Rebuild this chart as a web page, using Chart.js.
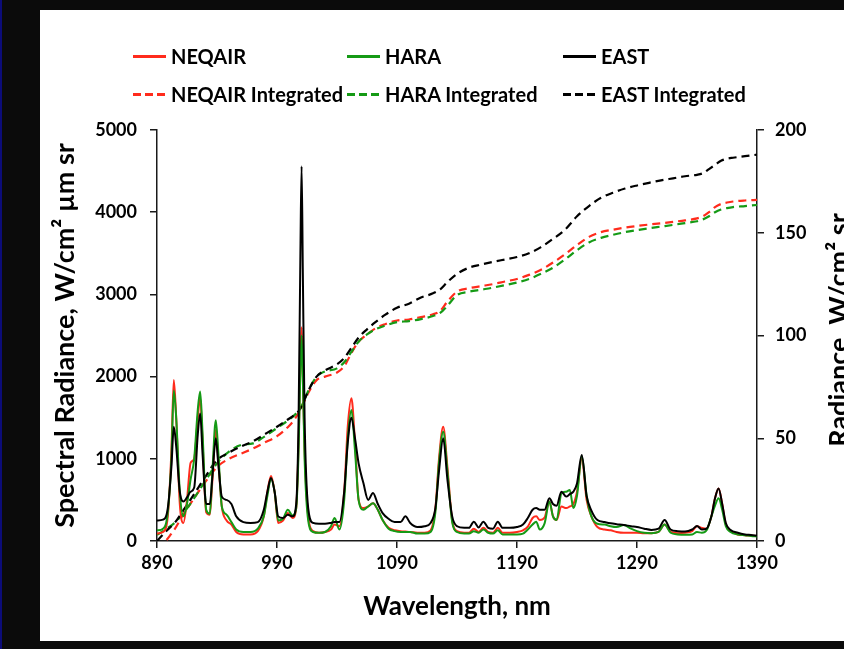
<!DOCTYPE html>
<html>
<head>
<meta charset="utf-8">
<title>Spectral radiance</title>
<script src="https://cdn.jsdelivr.net/npm/chart.js@4.4.0/dist/chart.umd.min.js"></script>
<style>
    html, body { margin: 0; padding: 0; width: 844px; height: 649px; overflow: hidden; background: #0b0b0b; }
    #edge { position: absolute; left: 0; top: 0; width: 2px; height: 649px; background: #0c0c78; }
    #panel { position: absolute; left: 40px; top: 10px; width: 830px; height: 631px; background: #fff; overflow: hidden; }
    #myChart { position: absolute; left: 0; top: 0; }
    .item { position: absolute; height: 26px; display: flex; align-items: center; white-space: nowrap;
            font-family: Lato, sans-serif; font-weight: bold; font-size: 20px; color: #000; }
    .swatch { width: 33px; height: 3px; margin-right: 5px; }
</style>
</head>
<body>
<div id="edge"></div>
<div id="panel">
    <canvas id="myChart" width="830" height="631"></canvas>
    <div id="legend"></div>
</div>
<script>
// spectra, W/cm2 um sr
var wavelength = [
    890, 895, 899, 902, 904, 906, 909, 912, 915, 918,
    921, 924, 926, 928, 931, 934, 936, 939, 941, 944,
    948, 952, 956, 962, 968, 974, 979, 982, 985, 988,
    991, 995, 999, 1003, 1006, 1008, 1009.5, 1010.5, 1011.5, 1013,
    1016, 1020, 1025, 1030, 1035, 1038, 1042, 1046, 1049, 1052,
    1055, 1058, 1062, 1066, 1070, 1074, 1078, 1083, 1088, 1093,
    1097, 1101, 1107, 1113, 1118, 1122, 1125, 1128.5, 1132, 1136,
    1140, 1146, 1150, 1154, 1158, 1162, 1166, 1170, 1174, 1178,
    1184, 1190, 1195, 1199, 1203, 1206, 1209, 1213, 1217, 1220,
    1223, 1227, 1231, 1234, 1237, 1240, 1244, 1248, 1252, 1257,
    1263, 1268, 1273, 1279, 1285, 1290, 1296, 1302, 1308, 1313,
    1318, 1324, 1330, 1336, 1340, 1344, 1348, 1352, 1355, 1358,
    1361, 1364, 1368, 1374, 1380, 1385, 1390
];
var neqair = [
    90, 110, 300, 1100, 1960, 1500, 450, 220, 500, 950,
    1000, 1500, 1750, 1200, 350, 320, 700, 1350, 1000, 420,
    250, 200, 110, 80, 80, 120, 300, 600, 790, 600,
    220, 250, 340, 280, 400, 1200, 2200, 2600, 2000, 1100,
    300, 120, 100, 110, 140, 200, 180, 600, 1400, 1736,
    1200, 500, 400, 420, 458, 380, 255, 160, 130, 120,
    115, 110, 100, 100, 130, 400, 1000, 1390, 900, 250,
    120, 100, 100, 150, 110, 160, 110, 100, 160, 100,
    100, 110, 130, 175, 280, 300, 255, 285, 480, 300,
    255, 420, 400, 420, 450, 600, 1000, 500, 300, 170,
    140, 130, 110, 100, 100, 100, 95, 95, 110, 200,
    110, 95, 100, 120, 180, 160, 150, 300, 520, 640,
    450, 200, 120, 80, 70, 65, 60
];
var hara = [
    130, 150, 350, 1000, 1830, 1500, 600, 300, 450, 750,
    1000, 1600, 1820, 1300, 380, 330, 800, 1470, 1100, 420,
    320, 230, 140, 110, 110, 150, 300, 550, 760, 600,
    250, 270, 380, 310, 400, 1100, 2100, 2500, 2000, 1000,
    250, 110, 100, 110, 180, 280, 140, 500, 1250, 1594,
    1100, 500, 380, 420, 458, 380, 255, 150, 120, 110,
    110, 110, 90, 90, 110, 350, 950, 1330, 850, 230,
    110, 90, 90, 120, 100, 140, 100, 90, 130, 80,
    80, 80, 90, 140, 200, 235, 140, 215, 480, 300,
    255, 580, 600, 620, 400, 550, 1030, 550, 300, 210,
    200, 180, 170, 195, 150, 120, 100, 95, 110, 200,
    100, 80, 75, 80, 110, 100, 130, 300, 430, 519,
    380, 180, 110, 80, 70, 60, 55
];
var east = [
    250, 260, 400, 900, 1390, 1150, 600, 480, 530, 600,
    650, 1300, 1550, 1050, 450, 450, 750, 1250, 950, 540,
    500, 450, 300, 230, 220, 230, 380, 600, 766, 600,
    300, 280, 320, 300, 450, 1500, 3500, 4560, 3300, 1500,
    400, 220, 210, 210, 220, 230, 230, 600, 1200, 1500,
    1250, 945, 705, 500, 584, 450, 340, 270, 230, 230,
    300, 220, 170, 180, 220, 400, 850, 1250, 750, 300,
    180, 160, 160, 235, 165, 235, 160, 150, 235, 160,
    160, 170, 200, 280, 380, 400, 380, 380, 520, 450,
    430, 600, 540, 570, 600, 700, 1046, 550, 370, 255,
    230, 215, 205, 195, 180, 170, 150, 135, 150, 255,
    140, 120, 115, 140, 182, 140, 150, 300, 520, 640,
    450, 220, 134, 100, 80, 73, 65
];

// integrated radiance, W/cm2 sr
var intWavelength = [
    890, 898, 905, 912, 920, 930, 940, 950, 960, 970,
    980, 990, 1000, 1005, 1009, 1012, 1016, 1023, 1030, 1040,
    1046, 1052, 1058, 1065, 1072, 1080, 1090, 1100, 1110, 1120,
    1126, 1132, 1140, 1150, 1160, 1170, 1180, 1190, 1200, 1210,
    1220, 1230, 1240, 1250, 1260, 1270, 1280, 1290, 1300, 1310,
    1320, 1330, 1340, 1345, 1350, 1355, 1360, 1365, 1370, 1380,
    1390
];
var neqairInt = [
    null, 0.5, 6, 13, 20, 28.5, 36, 40, 42.5, 45,
    48, 51, 56, 59.5, 63.5, 67, 72, 78.3, 80, 82,
    85, 91.5, 97, 100.5, 103.5, 105.5, 107.3, 107.8, 109, 110.3,
    112, 116.5, 121.3, 123, 124, 125, 126.3, 127.5, 129.5, 132,
    135.5, 139.5, 144, 148, 150.3, 151.5, 152.5, 153.3, 154, 154.6,
    155.3, 156, 157, 158, 160, 162.5, 164, 164.7, 165.2, 165.7,
    166
];
var haraInt = [
    3, 6, 9, 13.5, 20, 29, 37.8, 43.5, 46.7, 47.5,
    51, 55, 59, 61.5, 64, 67.5, 73, 80, 82.5, 84,
    87, 92, 97, 100.5, 103, 104.8, 106.5, 107, 108, 109.5,
    111, 114.5, 119.7, 121.3, 122.3, 123.3, 124.5, 125.8, 127.5, 130,
    133, 137, 141.5, 145.3, 147.5, 149, 150.3, 151.3, 152.2, 153,
    153.8, 154.7, 155.6, 156.5, 158, 160, 161.3, 162, 162.5, 163,
    163.5
];
var eastInt = [
    0, 5, 9, 15, 22, 31, 39.4, 43, 46, 48.5,
    52, 55.6, 59.5, 61.5, 64, 67.5, 73, 80, 83, 86,
    89, 94, 99, 103, 106.5, 110, 113.5, 115.5, 118.5, 120.5,
    122.5, 126, 130, 133, 134.5, 135.8, 137, 138.2, 140, 143,
    147, 151.5, 158, 163, 167, 169.5, 171.5, 173, 174.3, 175.5,
    176.5, 177.5, 178.2, 179, 181, 183, 185, 186, 186.5, 187.3,
    188
];

var xTicks = [890, 990, 1090, 1190, 1290, 1390];
var leftLabel = 'Spectral Radiance, W/cm\u00B2 \u00B5m sr';
var rightLabel = 'Radiance, W/cm\u00B2 sr';
var bottomLabel = 'Wavelength, nm';

(function() {
    'use strict';

    var RED = '#ff2b1c';
    var GREEN = '#159a15';
    var BLACK = '#000000';
    var FONT = 'Lato';

    var points = function(xs, ys) {
        return xs.map(function(x, i) { return { x: x, y: ys[i] }; });
    };

    var line = function(label, xs, ys, color, dashed, order) {
        return {
            label: label,
            data: points(xs, ys),
            borderColor: color,
            backgroundColor: color,
            borderWidth: dashed ? 2.2 : 2,
            borderDash: dashed ? [8, 5] : [],
            yAxisID: dashed ? 'y1' : 'y',
            cubicInterpolationMode: 'monotone',
            pointRadius: 0,
            fill: false,
            order: order
        };
    };

    // plain numbers, no thousands separator
    var plain = function(value) { return String(value); };

    // right axis title reads bottom to top, so draw it by hand
    var rightTitle = {
        id: 'rightTitle',
        afterDraw: function(chart) {
            var c = chart.ctx;
            c.save();
            c.translate(808, 320);
            c.rotate(-Math.PI / 2);
            c.font = 'bold 27px ' + FONT;
            c.fillStyle = '#000';
            c.textAlign = 'center';
            c.textBaseline = 'alphabetic';
            c.fillText(rightLabel, 0, 0);
            c.restore();
        }
    };

    var tickFont = { family: FONT, weight: 'bold', size: 18 };
    var axisLine = { display: true, color: '#1a1a1a', width: 1.5 };
    var marks = { display: true, drawOnChartArea: false, drawTicks: true, tickLength: 7, color: '#1a1a1a', lineWidth: 1.5 };

    var chart = new Chart(document.getElementById('myChart'), {
        type: 'line',
        data: {
            datasets: [
                line('NEQAIR', wavelength, neqair, RED, false, 2),
                line('HARA', wavelength, hara, GREEN, false, 1),
                line('EAST', wavelength, east, BLACK, false, 0),
                line('NEQAIR Integrated', intWavelength, neqairInt, RED, true, 5),
                line('HARA Integrated', intWavelength, haraInt, GREEN, true, 4),
                line('EAST Integrated', intWavelength, eastInt, BLACK, true, 3)
            ]
        },
        options: {
            responsive: false,
            animation: false,
            devicePixelRatio: 1,
            layout: { padding: { top: 120, left: 0, right: 0, bottom: 0 } },
            plugins: { legend: { display: false }, tooltip: { enabled: false } },
            scales: {
                x: {
                    type: 'linear',
                    min: 890,
                    max: 1390,
                    afterBuildTicks: function(scale) {
                        scale.ticks = xTicks.map(function(v) { return { value: v }; });
                    },
                    afterFit: function(scale) { scale.height = 100; },
                    border: axisLine,
                    grid: marks,
                    ticks: { font: tickFont, color: '#000', padding: 4, maxRotation: 0, callback: plain },
                    title: { display: true, text: bottomLabel, color: '#000',
                             font: { family: FONT, weight: 'bold', size: 26 }, padding: { top: 0, bottom: 19 } }
                },
                y: {
                    position: 'left',
                    min: 0,
                    max: 5000,
                    afterFit: function(scale) { scale.width = 117; },
                    border: axisLine,
                    grid: marks,
                    ticks: { font: tickFont, color: '#000', padding: 13, stepSize: 1000, callback: plain },
                    title: { display: true, text: leftLabel, color: '#000',
                             font: { family: FONT, weight: 'bold', size: 27 }, padding: { top: 9, bottom: 0 } }
                },
                y1: {
                    position: 'right',
                    min: 0,
                    max: 200,
                    afterFit: function(scale) { scale.width = 113; },
                    border: axisLine,
                    grid: marks,
                    ticks: { font: tickFont, color: '#000', padding: 11, stepSize: 50, callback: plain }
                }
            }
        },
        plugins: [rightTitle]
    });

    //html legend, three columns by two rows
    var legend = document.getElementById('legend');
    var colX = [93, 307, 523];
    var rowY = [33, 71];
    chart.data.datasets.forEach(function(ds, i) {
        var item = document.createElement('div');
        item.className = 'item';
        item.style.left = colX[i % 3] + 'px';
        item.style.top = rowY[Math.floor(i / 3)] + 'px';
        var swatch = document.createElement('span');
        swatch.className = 'swatch';
        swatch.style.background = ds.borderDash.length ?
            'repeating-linear-gradient(to right, ' + ds.borderColor + ' 0 8px, transparent 8px 12px)' :
            ds.borderColor;
        item.appendChild(swatch);
        item.appendChild(document.createTextNode(ds.label));
        legend.appendChild(item);
    });
})();
</script>
</body>
</html>
